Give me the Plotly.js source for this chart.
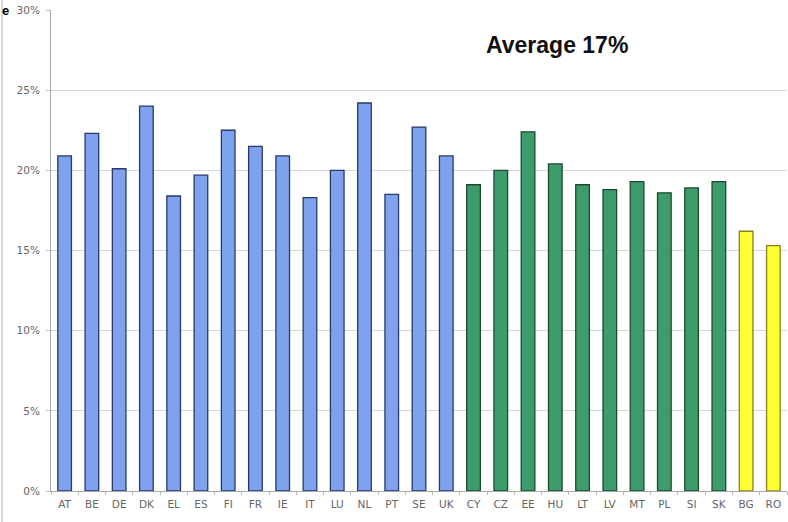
<!DOCTYPE html>
<html><head><meta charset="utf-8">
<script src="https://cdn.plot.ly/plotly-3.0.1.min.js"></script>
<style>body{margin:0;background:#fff}#chart{width:788px;height:522px}</style>
</head><body><div id="chart"></div>
<script>
const groupOld = ["AT","BE","DE","DK","EL","ES","FI","FR","IE","IT","LU","NL","PT","SE","UK"];
const valuesOld = [20.9,22.3,20.1,24.0,18.4,19.7,22.5,21.5,20.9,18.3,20.0,24.2,18.5,22.7,20.9];
const groupNew = ["CY","CZ","EE","HU","LT","LV","MT","PL","SI","SK"];
const valuesNew = [19.1,20.0,22.4,20.4,19.1,18.8,19.3,18.6,18.9,19.3];
const groupLatest = ["BG","RO"];
const valuesLatest = [16.2,15.3];
const yTicks = [0,5,10,15,20,25,30];
const yTickLabels = ["0%","5%","10%","15%","20%","25%","30%"];
const allCats = groupOld.concat(groupNew, groupLatest);

const mk = (x, y, fill, line) => ({
  type: 'bar', x: x, y: y,
  marker: {color: fill, line: {color: line, width: 1.3}},
  hoverinfo: 'x+y', showlegend: false
});

const data = [
  mk(groupOld, valuesOld, '#7fa2ee', '#28396b'),
  mk(groupNew, valuesNew, '#3e9c6c', '#1b4a30'),
  mk(groupLatest, valuesLatest, '#ffff33', '#8c7f22')
];

const tf = {family: 'DejaVu Sans, Verdana, sans-serif', size: 10.5, color: '#666666'};

const layout = {
  width: 788, height: 522,
  margin: {l: 51, r: 1, t: 10, b: 31, pad: 0},
  paper_bgcolor: '#ffffff', plot_bgcolor: '#ffffff',
  barmode: 'group', bargap: 0.5,
  font: tf,
  xaxis: {
    type: 'category', categoryorder: 'array', categoryarray: allCats,
    showline: true, linecolor: '#a8a8a8', linewidth: 1,
    ticks: 'outside', tickson: 'boundaries', ticklen: 3, tickcolor: '#b8b8b8',
    showgrid: false, zeroline: false, ticklabelstandoff: 3,
    tickfont: tf,
    range: [-0.5, allCats.length - 0.5]
  },
  yaxis: {
    range: [0, 30], tickvals: yTicks, ticktext: yTickLabels,
    showgrid: true, gridcolor: '#d8d8d8', gridwidth: 1,
    showline: true, linecolor: '#a8a8a8', linewidth: 1,
    zeroline: false, ticks: 'outside', ticklen: 4, tickcolor: '#c0c0c0',
    ticklabelstandoff: 4,
    tickfont: tf
  },
  annotations: [
    {text: '<b>Average 17%</b>', xref: 'paper', yref: 'paper', x: 0.688, y: 0.927,
     xanchor: 'center', yanchor: 'middle', showarrow: false,
     font: {family: 'Liberation Sans, Arial, sans-serif', size: 23, color: '#111'}},
    {text: '<b>e</b>', xref: 'paper', yref: 'paper', x: -51/736, y: 1.0,
     xanchor: 'left', yanchor: 'middle', showarrow: false,
     font: {family: 'Liberation Sans, Arial, sans-serif', size: 13, color: '#000'}}
  ],
  shapes: [
    {type: 'line', xref: 'paper', yref: 'paper', x0: -49/736, x1: -49/736, y0: -0.07, y1: 1.03,
     line: {color: '#b0b0b0', width: 1}}
  ]
};

Plotly.newPlot('chart', data, layout, {displayModeBar: false, staticPlot: true});
</script></body></html>
